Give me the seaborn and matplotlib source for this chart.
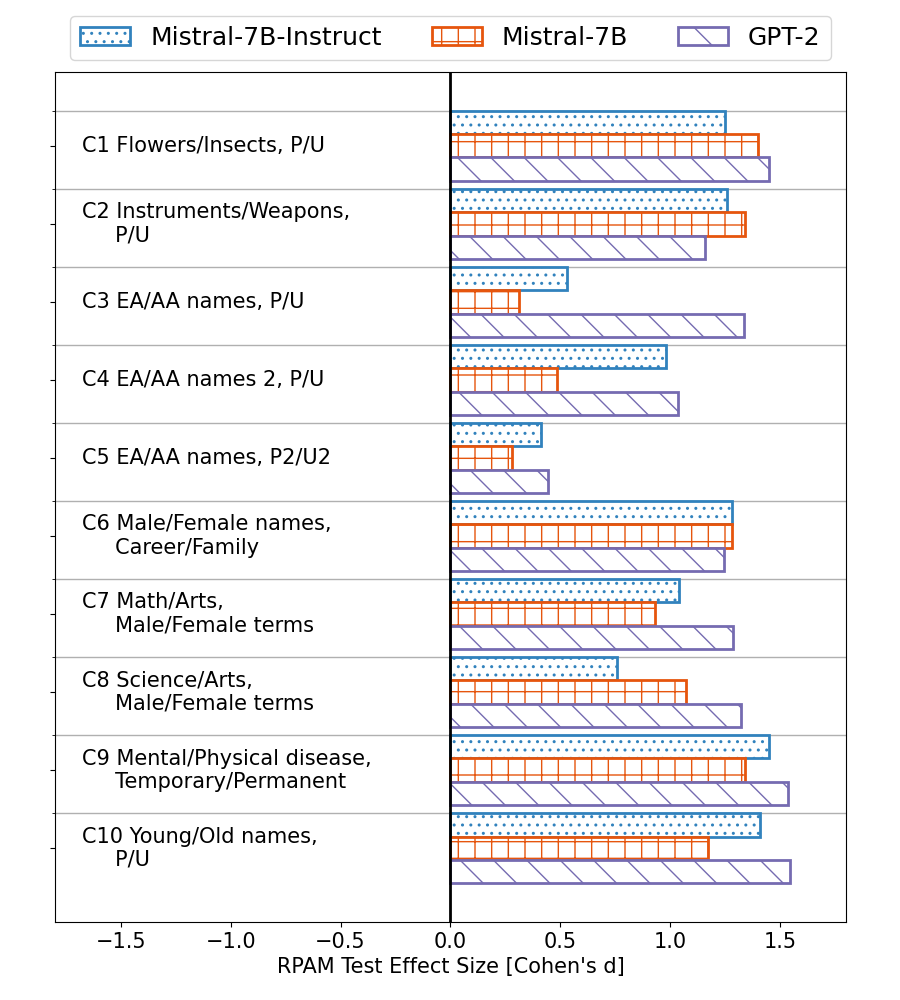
import matplotlib
matplotlib.use('Agg')
import matplotlib.pyplot as plt
import numpy as np
import pandas as pd
import seaborn as sns

categories = [
    'C1 Flowers/Insects, P/U',
    'C2 Instruments/Weapons,\n     P/U',
    'C3 EA/AA names, P/U',
    'C4 EA/AA names 2, P/U',
    'C5 EA/AA names, P2/U2',
    'C6 Male/Female names,\n     Career/Family',
    'C7 Math/Arts,\n     Male/Female terms',
    'C8 Science/Arts,\n     Male/Female terms',
    'C9 Mental/Physical disease,\n     Temporary/Permanent',
    'C10 Young/Old names,\n     P/U',
]
models = ['Mistral-7B-Instruct', 'Mistral-7B', 'GPT-2']
mistral_instruct = [1.25, 1.26, 0.53, 0.98, 0.41, 1.28, 1.04, 0.76, 1.45, 1.41]
mistral = [1.40, 1.34, 0.31, 0.485, 0.28, 1.28, 0.93, 1.07, 1.34, 1.17]
gpt2 = [1.45, 1.16, 1.335, 1.035, 0.445, 1.245, 1.285, 1.32, 1.535, 1.545]

colors = ['#3182bd', '#e6550d', '#756bb1']
hatches = ['..', '+', '\\']

df = pd.DataFrame({
    'category': categories * 3,
    'model': np.repeat(models, len(categories)),
    'd': mistral_instruct + mistral + gpt2,
})

fig, ax = plt.subplots(figsize=(9, 10), dpi=100)
fig.subplots_adjust(left=0.061, right=0.94, top=0.928, bottom=0.078)

sns.barplot(data=df, y='category', x='d', hue='model', order=categories,
            hue_order=models, palette=colors, orient='h', width=0.9,
            errorbar=None, ax=ax)

# white bars, coloured outline + hatch
for cont, col, h in zip(ax.containers, colors, hatches):
    for p in cont:
        p.set_facecolor('white')
        p.set_edgecolor(col)
        p.set_hatch(h)
        p.set_linewidth(2)

n = len(categories)
ax.set_ylim(n - 1 + 0.945, -0.945)
ax.set_xlim(-1.8, 1.8)
ax.set_yticks(np.arange(n))
ax.set_yticklabels([''] * n)
ax.set_yticks(np.arange(n) - 0.45, minor=True)
ax.grid(which='minor', axis='y', color='#b0b0b0', linewidth=1)
ax.grid(which='major', axis='x', visible=False)
ax.set_axisbelow(True)
ax.axvline(0, color='black', linewidth=2)

for i, lab in enumerate(categories):
    ax.text(-1.675, i, lab, ha='left', va='center', fontsize=15)

ax.set_xticks([-1.5, -1.0, -0.5, 0.0, 0.5, 1.0, 1.5])
ax.tick_params(axis='x', labelsize=15)
ax.set_xlabel("RPAM Test Effect Size [Cohen's d]", fontsize=15)
ax.set_ylabel('')

ax.legend(handles=list(ax.containers), labels=models, loc='upper center',
          bbox_to_anchor=(0.5, 1.081), ncol=3, fontsize=18, frameon=True)

plt.savefig('out.png', dpi=100)
